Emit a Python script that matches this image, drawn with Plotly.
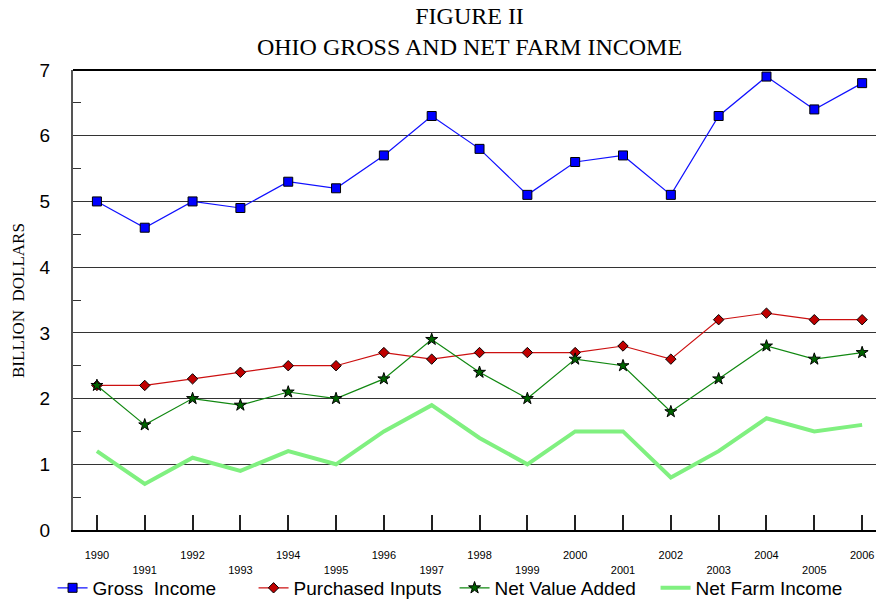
import plotly.graph_objects as go

years = list(range(1990, 2007))
gross_income = [5.0, 4.6, 5.0, 4.9, 5.3, 5.2, 5.7, 6.3, 5.8, 5.1, 5.6, 5.7, 5.1, 6.3, 6.9, 6.4, 6.8]
purchased_inputs = [2.2, 2.2, 2.3, 2.4, 2.5, 2.5, 2.7, 2.6, 2.7, 2.7, 2.7, 2.8, 2.6, 3.2, 3.3, 3.2, 3.2]
net_value_added = [2.2, 1.6, 2.0, 1.9, 2.1, 2.0, 2.3, 2.9, 2.4, 2.0, 2.6, 2.5, 1.8, 2.3, 2.8, 2.6, 2.7]
net_farm_income = [1.2, 0.7, 1.1, 0.9, 1.2, 1.0, 1.5, 1.9, 1.4, 1.0, 1.5, 1.5, 0.8, 1.2, 1.7, 1.5, 1.6]
tick_labels = [str(y) if y % 2 == 0 else "<br>" + str(y) for y in years]

fig = go.Figure()
fig.add_trace(go.Scatter(
    x=years, y=gross_income, name="Gross  Income", mode="lines+markers",
    line=dict(color="#1010FF", width=1.2),
    marker=dict(symbol="square", size=9, color="#0000FF", line=dict(color="black", width=1))))
fig.add_trace(go.Scatter(
    x=years, y=purchased_inputs, name="Purchased Inputs", mode="lines+markers",
    line=dict(color="#CC1010", width=1.2),
    marker=dict(symbol="diamond", size=8, color="#C00000", line=dict(color="black", width=1))))
fig.add_trace(go.Scatter(
    x=years, y=net_value_added, name="Net Value Added", mode="lines+markers",
    line=dict(color="#118811", width=1.2),
    marker=dict(symbol="star", size=9, color="#006400", line=dict(color="black", width=1))))
fig.add_trace(go.Scatter(
    x=years, y=net_farm_income, name="Net Farm Income", mode="lines",
    line=dict(color="#80F080", width=4)))

fig.update_layout(
    width=876, height=599,
    margin=dict(l=73, r=0, t=70, b=69, autoexpand=False),
    paper_bgcolor="white", plot_bgcolor="white",
    font=dict(family="Liberation Sans, Arial", color="black"),
    title=dict(text="FIGURE II<br>OHIO GROSS AND NET FARM INCOME",
               font=dict(family="Liberation Serif, Times New Roman", size=24, color="black"),
               x=0.536, xanchor="center", y=0.96, yanchor="top"),
    showlegend=True,
    legend=dict(orientation="h", x=0.060, xanchor="left", y=-0.126, yanchor="middle",
                yref="paper", xref="container",
                font=dict(size=19, family="Liberation Sans, Arial"),
                entrywidth=156, bgcolor="rgba(0,0,0,0)", tracegroupgap=0),
    # frame line along the top of the plot area
    shapes=[dict(type="line", xref="paper", yref="paper", x0=0, x1=1, y0=1, y1=1,
                 line=dict(color="black", width=2), layer="below")],
    annotations=[dict(text="BILLION  DOLLARS", textangle=-90, xref="paper", yref="paper",
                      x=-0.0685, y=0.5, xanchor="center", yanchor="middle", showarrow=False,
                      font=dict(family="Liberation Serif, Times New Roman", size=17, color="black"))],
)
fig.update_xaxes(
    range=[1989.5, 2006.29], tickmode="array", tickvals=years, ticktext=tick_labels,
    ticks="inside", ticklen=15, tickcolor="#222", tickwidth=1.5,
    tickfont=dict(size=11, family="Liberation Sans, Arial"),
    ticklabelstandoff=14,
    showline=True, linecolor="black", linewidth=2, showgrid=False, zeroline=False)
fig.update_yaxes(
    range=[0, 7], tickmode="array", tickvals=[0, 1, 2, 3, 4, 5, 6, 7],
    ticks="inside", ticklen=8, tickcolor="#333",
    tickfont=dict(size=19, family="Liberation Sans, Arial"),
    ticklabelstandoff=17,
    showgrid=True, gridcolor="#333", gridwidth=1,
    showline=True, linecolor="#555", linewidth=2, zeroline=False,
    minor=dict(tickvals=[0.5, 1.5, 2.5, 3.5, 4.5, 5.5, 6.5], ticks="inside", ticklen=8,
               tickcolor="#333", showgrid=False))

fig.write_html("out.html", config={"displayModeBar": False})

# remove the default page margin so the figure sits at the window's top-left corner
with open("out.html", "r", encoding="utf-8") as f:
    html = f.read()
html = html.replace("<head>", "<head><style>html,body{margin:0;padding:0;overflow:hidden;}</style>", 1)
with open("out.html", "w", encoding="utf-8") as f:
    f.write(html)
